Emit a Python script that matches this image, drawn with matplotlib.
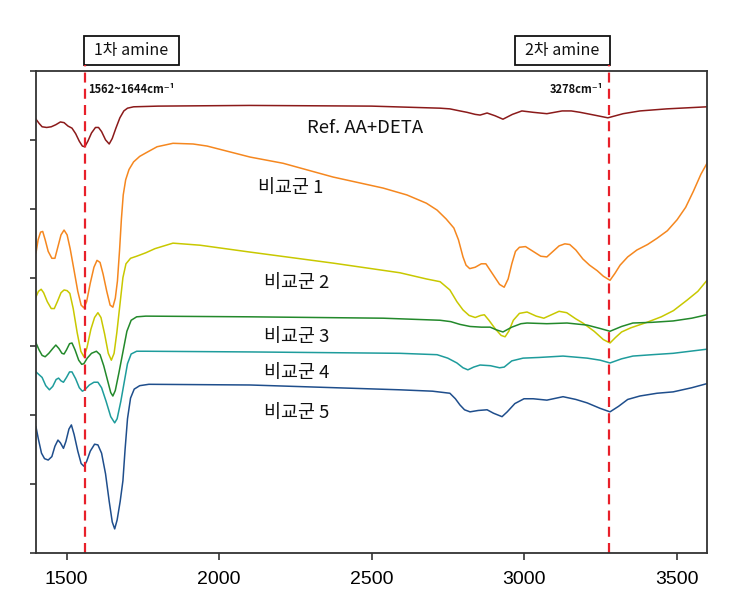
import matplotlib
matplotlib.use('Agg')
import matplotlib.pyplot as plt
from matplotlib.patches import Rectangle
import matplotlib.transforms as mtransforms

# ---------------- data (wavenumber, offset transmittance) ----------------
ref_wn = [1400, 1410, 1420, 1435, 1450, 1465, 1480, 1492, 1505, 1518, 1530, 1542, 1552, 1560,
          1570, 1582, 1595, 1605, 1615, 1628, 1640, 1650, 1662, 1675, 1688, 1700, 1720, 1800,
          2100, 2500, 2725, 2757, 2790, 2813, 2840, 2856, 2879, 2905, 2931, 2962, 2993, 3030,
          3075, 3100, 3125, 3155, 3184, 3230, 3275, 3300, 3325, 3380, 3468, 3600]
ref_t = [6.30, 6.24, 6.19, 6.18, 6.19, 6.22, 6.26, 6.25, 6.20, 6.17, 6.09, 5.98, 5.91, 5.90,
         5.98, 6.10, 6.18, 6.18, 6.12, 6.00, 5.94, 6.02, 6.17, 6.32, 6.42, 6.46, 6.48, 6.49,
         6.50, 6.49, 6.46, 6.45, 6.42, 6.40, 6.37, 6.36, 6.39, 6.35, 6.30, 6.37, 6.42, 6.40,
         6.38, 6.40, 6.42, 6.42, 6.40, 6.36, 6.32, 6.35, 6.38, 6.42, 6.45, 6.48]

g1_wn = [1400, 1407, 1415, 1422, 1430, 1440, 1452, 1462, 1472, 1482, 1492, 1502, 1512, 1525,
         1537, 1548, 1557, 1566, 1578, 1590, 1600, 1610, 1620, 1632, 1643, 1652, 1660, 1667,
         1674, 1680, 1686, 1694, 1705, 1720, 1740, 1760, 1797, 1849, 1915, 1961, 2102, 2210,
         2374, 2538, 2616, 2680, 2715, 2745, 2770, 2785, 2800, 2810, 2822, 2840, 2860, 2875,
         2890, 2905, 2920, 2935, 2948, 2960, 2972, 2985, 3005, 3030, 3055, 3075, 3095, 3115,
         3134, 3150, 3170, 3193, 3215, 3240, 3260, 3282, 3298, 3315, 3340, 3370, 3405, 3436,
         3470, 3502, 3530, 3555, 3580, 3600]
g1_t = [4.36, 4.55, 4.66, 4.67, 4.55, 4.38, 4.28, 4.28, 4.45, 4.62, 4.69, 4.62, 4.42, 4.10,
        3.80, 3.60, 3.56, 3.65, 3.92, 4.15, 4.25, 4.22, 4.05, 3.80, 3.60, 3.57, 3.70, 3.95,
        4.40, 4.85, 5.20, 5.42, 5.57, 5.68, 5.76, 5.81, 5.90, 5.95, 5.94, 5.91, 5.75, 5.66,
        5.46, 5.30, 5.20, 5.08, 4.98, 4.85, 4.72, 4.55, 4.30, 4.18, 4.13, 4.15, 4.20, 4.20,
        4.10, 4.00, 3.90, 3.86, 3.98, 4.20, 4.38, 4.44, 4.45, 4.38, 4.31, 4.30, 4.38, 4.46,
        4.49, 4.48, 4.40, 4.27, 4.18, 4.10, 4.02, 3.96, 4.06, 4.18, 4.30, 4.40, 4.48, 4.57,
        4.68, 4.84, 5.02, 5.25, 5.50, 5.66]

g2_wn = [1400, 1408, 1417, 1425, 1437, 1450, 1460, 1470, 1482, 1492, 1502, 1511, 1522, 1535,
         1547, 1557, 1567, 1580, 1592, 1603, 1613, 1625, 1637, 1647, 1656, 1665, 1675, 1685,
         1695, 1710, 1730, 1760, 1790, 1849, 1938, 2102, 2374, 2593, 2680, 2725, 2757, 2780,
         2800, 2820, 2840, 2858, 2870, 2885, 2905, 2925, 2938, 2950, 2965, 2985, 3010, 3040,
         3065, 3090, 3115, 3140, 3170, 3193, 3230, 3260, 3282, 3300, 3320, 3350, 3403, 3450,
         3490, 3534, 3570, 3600]
g2_t = [3.72, 3.80, 3.83, 3.78, 3.65, 3.55, 3.55, 3.65, 3.78, 3.82, 3.81, 3.77, 3.55, 3.20,
        2.93, 2.85, 2.98, 3.25, 3.42, 3.49, 3.42, 3.18, 2.90, 2.80, 2.90, 3.20, 3.60, 4.00,
        4.20, 4.28, 4.31, 4.36, 4.42, 4.50, 4.47, 4.37, 4.21, 4.07, 3.98, 3.94, 3.82, 3.65,
        3.53, 3.45, 3.42, 3.45, 3.46, 3.38, 3.26, 3.16, 3.14, 3.22, 3.38, 3.48, 3.50, 3.44,
        3.41, 3.46, 3.51, 3.49, 3.40, 3.34, 3.22, 3.10, 3.05, 3.13, 3.21, 3.27, 3.35, 3.43,
        3.52, 3.67, 3.80, 3.96]

g3_wn = [1400, 1410, 1420, 1430, 1442, 1455, 1465, 1475, 1485, 1492, 1500, 1510, 1518, 1528,
         1540, 1550, 1557, 1568, 1582, 1598, 1610, 1622, 1635, 1645, 1652, 1660, 1672, 1685,
         1698, 1712, 1730, 1760, 2102, 2538, 2725, 2760, 2790, 2823, 2860, 2889, 2910, 2931,
         2960, 2990, 3010, 3075, 3141, 3207, 3250, 3282, 3320, 3357, 3420, 3489, 3550, 3600]
g3_t = [3.05, 2.95, 2.87, 2.85, 2.90, 2.97, 3.02, 2.97, 2.90, 2.89, 2.95, 3.04, 3.05, 2.95,
        2.80, 2.74, 2.75, 2.83, 2.90, 2.93, 2.88, 2.72, 2.50, 2.33, 2.28, 2.36, 2.62, 2.92,
        3.22, 3.38, 3.43, 3.44, 3.43, 3.41, 3.38, 3.36, 3.32, 3.29, 3.28, 3.28, 3.24, 3.21,
        3.28, 3.33, 3.34, 3.33, 3.34, 3.31, 3.26, 3.22, 3.29, 3.34, 3.35, 3.37, 3.41, 3.46]

g4_wn = [1400, 1410, 1420, 1432, 1444, 1455, 1466, 1474, 1482, 1490, 1500, 1510, 1518, 1530,
         1542, 1552, 1560, 1575, 1590, 1603, 1615, 1630, 1645, 1658, 1666, 1678, 1690, 1700,
         1712, 1730, 1760, 2102, 2593, 2715, 2750, 2780, 2800, 2816, 2835, 2856, 2890, 2920,
         2935, 2960, 2997, 3050, 3128, 3207, 3250, 3282, 3320, 3357, 3420, 3489, 3600]
g4_t = [2.63, 2.59, 2.55, 2.43, 2.37, 2.42, 2.52, 2.54, 2.50, 2.48, 2.55, 2.63, 2.63, 2.53,
        2.40, 2.35, 2.37, 2.44, 2.48, 2.48, 2.40, 2.20, 1.98, 1.89, 1.95, 2.20, 2.50, 2.75,
        2.89, 2.93, 2.93, 2.92, 2.90, 2.88, 2.83, 2.76, 2.69, 2.66, 2.70, 2.73, 2.72, 2.69,
        2.70, 2.79, 2.83, 2.84, 2.86, 2.83, 2.80, 2.76, 2.82, 2.86, 2.88, 2.90, 2.96]

g5_wn = [1400, 1408, 1418, 1428, 1440, 1452, 1462, 1472, 1480, 1490, 1498, 1508, 1516, 1525,
         1537, 1548, 1557, 1566, 1578, 1592, 1603, 1615, 1628, 1640, 1650, 1658, 1666, 1676,
         1685, 1692, 1700, 1710, 1722, 1740, 1770, 2102, 2593, 2700, 2757, 2775, 2790, 2805,
         2823, 2850, 2879, 2900, 2928, 2945, 2970, 3000, 3030, 3075, 3128, 3170, 3207, 3250,
         3282, 3310, 3340, 3380, 3436, 3489, 3550, 3600]
g5_t = [1.83, 1.65, 1.45, 1.37, 1.35, 1.40, 1.55, 1.64, 1.60, 1.52, 1.62, 1.80, 1.86, 1.72,
        1.48, 1.30, 1.26, 1.33, 1.48, 1.58, 1.57, 1.45, 1.15, 0.75, 0.45, 0.35, 0.48, 0.75,
        1.05, 1.50, 1.95, 2.25, 2.38, 2.43, 2.45, 2.44, 2.37, 2.35, 2.32, 2.24, 2.15, 2.08,
        2.05, 2.07, 2.08, 2.03, 1.98, 2.05, 2.17, 2.24, 2.24, 2.22, 2.27, 2.23, 2.18, 2.10,
        2.05, 2.13, 2.23, 2.28, 2.32, 2.34, 2.40, 2.46]

series_names = ['Ref. AA+DETA', '비교군 1', '비교군 2', '비교군 3', '비교군 4', '비교군 5']
x_ticks = [1500, 2000, 2500, 3000, 3500]
marker_lines = [1562, 3278]
marker_labels = ['1562~1644cm⁻¹', '3278cm⁻¹']
box_labels = ['1차 amine', '2차 amine']

# ---------------- styling ----------------
plt.rcParams['font.family'] = ['Noto Sans CJK KR', 'DejaVu Sans']
colors = ['#8B1A1A', '#F5871F', '#C8C800', '#23892B', '#1E9C9C', '#1F4E8C']
series = [(ref_wn, ref_t), (g1_wn, g1_t), (g2_wn, g2_t), (g3_wn, g3_t), (g4_wn, g4_t), (g5_wn, g5_t)]

W, H = 749, 610
fig = plt.figure(figsize=(W / 100, H / 100), dpi=100)
ax = fig.add_axes([36 / W, 1 - 553 / H, 671 / W, 482 / H])

for (wn, t), c in zip(series, colors):
    ax.plot(wn, t, color=c, lw=1.1, solid_joinstyle='round', antialiased=True)

ax.set_xlim(1400, 3600)
ax.set_ylim(0, 7)
ax.set_xticks(x_ticks)
ax.set_yticks(range(8))
ax.set_yticklabels([])
for lab in ax.get_xticklabels():
    lab.set_family(['Liberation Sans', 'DejaVu Sans'])
ax.tick_params(axis='x', direction='out', length=5, width=1.2, labelsize=14, pad=8, color='#333333')
ax.tick_params(axis='y', direction='out', length=4.5, width=1.2, color='#333333')
for s in ax.spines.values():
    s.set_linewidth(1.3)
    s.set_color('#333333')

# label text on curves
label_pos = [(2479, 6.17), (2236, 5.30), (2256, 3.92), (2256, 3.14), (2256, 2.61), (2256, 2.03)]
for name, (lx, ly) in zip(series_names, label_pos):
    ax.text(lx, ly, name, fontsize=13.3, ha='center', va='center', color='#111111')

# red dashed lines and boxes
trans = mtransforms.blended_transform_factory(ax.transData, ax.transAxes)
box_top = (553 - 36) / 482
box_bot = (553 - 65) / 482
for xv in marker_lines:
    ax.axvline(xv, ymin=0, ymax=box_bot, color='#E8202A', lw=1.6, dashes=(4.5, 2.8), clip_on=False)

box_x = [(1557, 1869), (2970, 3282)]
for (x0, x1), lab in zip(box_x, box_labels):
    r = Rectangle((x0, box_bot), x1 - x0, box_top - box_bot, transform=trans,
                  fill=False, ec='#111111', lw=1.3, clip_on=False)
    ax.add_patch(r)
    ax.text((x0 + x1) / 2, (box_top + box_bot) / 2, lab, transform=trans,
            ha='center', va='center', fontsize=11.5, color='#111111', clip_on=False)

ylab = (553 - 89) / 482
ax.text(1570, ylab, marker_labels[0], transform=trans, ha='left', va='center',
        fontsize=8, fontweight='bold', color='#111111')
ax.text(3260, ylab, marker_labels[1], transform=trans, ha='right', va='center',
        fontsize=8, fontweight='bold', color='#111111')

fig.savefig('out.png', dpi=100)
